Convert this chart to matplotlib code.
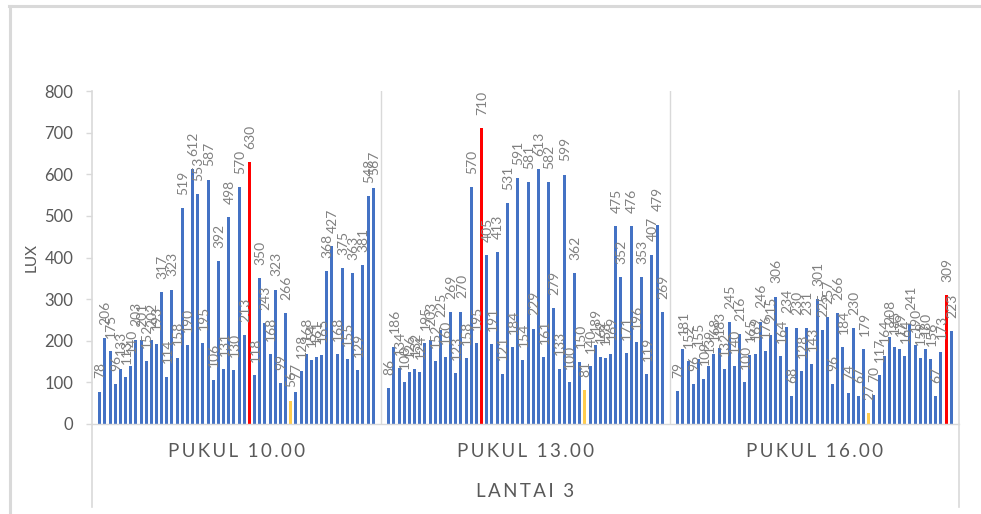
import numpy as np
import matplotlib.pyplot as plt
from matplotlib.lines import Line2D

plt.rcParams['font.family'] = ['Lato', 'DejaVu Sans']

# =========================================================
#                           data
# =========================================================
groups = ['PUKUL 10.00', 'PUKUL 13.00', 'PUKUL 16.00']
outer_label = 'LANTAI 3'
y_label = 'LUX'

lux_10 = [78, 206, 175, 96, 133, 113, 140, 203, 201, 152, 202, 193, 317, 114,
          323, 158, 519, 190, 612, 553, 195, 587, 106, 392, 131, 498, 130, 570,
          213, 630, 118, 350, 243, 168, 323, 99, 266, 56, 77, 128, 168, 154,
          161, 165, 368, 427, 168, 375, 155, 363, 129, 381, 548, 567]
lux_13 = [86, 186, 134, 100, 126, 132, 124, 195, 203, 152, 225, 160, 269, 123,
          270, 158, 570, 195, 710, 405, 191, 413, 121, 531, 184, 591, 154, 581,
          229, 613, 161, 582, 279, 133, 599, 100, 362, 150, 81, 140, 189, 162,
          158, 169, 475, 352, 171, 476, 196, 353, 119, 407, 479, 269]
lux_16 = [79, 181, 152, 96, 155, 109, 139, 168, 183, 132, 245, 140, 216, 100,
          165, 169, 246, 176, 215, 306, 164, 234, 68, 230, 128, 231, 143, 301,
          225, 257, 96, 266, 184, 74, 230, 67, 179, 27, 70, 117, 164, 208,
          185, 179, 164, 241, 190, 159, 180, 156, 67, 173, 309, 223]
series = [lux_10, lux_13, lux_16]

y_ticks = [0, 100, 200, 300, 400, 500, 600, 700, 800]

# =========================================================
#                           plot
# =========================================================
BLUE = '#4472C4'
RED = '#FF0000'
YELLOW = '#FFCC4D'
GRID = '#D9D9D9'
TXT = '#595959'

slots = 56   # 54 bars + one empty slot at each side of a group


def spaced(s):
    # letter spacing like the excel axis labels
    return '\u2009'.join(s)


fig = plt.figure(figsize=(9.81, 5.14), dpi=100)
ax = fig.add_axes([92 / 981, 90 / 514, 867 / 981, 333 / 514])

for g, vals in enumerate(series):
    vals = np.array(vals)
    x = g * slots + 1.5 + np.arange(len(vals))
    colors = [BLUE] * len(vals)
    colors[int(np.argmax(vals))] = RED
    colors[int(np.argmin(vals))] = YELLOW
    ax.bar(x, vals, width=0.58, color=colors, zorder=2)
    for xi, v in zip(x, vals):
        ax.annotate(str(v), (xi, v), xytext=(0.6, 9.5), textcoords='offset points',
                    rotation=90, ha='center', va='bottom', fontsize=10,
                    color='#808080', zorder=3)
    ax.text(g * slots + slots / 2, -0.084, spaced(groups[g]),
            transform=ax.get_xaxis_transform(), ha='center', va='center',
            fontsize=13.5, color=TXT)

ax.text(0.5, -0.204, spaced(outer_label), transform=ax.transAxes,
        ha='center', va='center', fontsize=13.5, color=TXT)

ax.set_xlim(0, slots * 3)
ax.set_ylim(0, 800)
ax.set_yticks(y_ticks)
ax.set_xticks([])
ax.tick_params(axis='y', length=4.5, width=1, color=GRID, labelsize=12,
               labelcolor=TXT, pad=9)

for sp in ['top', 'right', 'left']:
    ax.spines[sp].set_visible(False)
ax.spines['bottom'].set_color(GRID)
ax.spines['bottom'].set_linewidth(1)

# group dividers inside the plot
for xb in [slots, 2 * slots]:
    ax.axvline(xb, color=GRID, lw=1, zorder=1)
# outer boundary lines run down through the label rows
for xb in [0, 3 * slots]:
    ax.add_line(Line2D([xb, xb], [-0.25, 1], transform=ax.get_xaxis_transform(),
                       color=GRID, lw=1.2, clip_on=False))

fig.text(32 / 981, 1 - 258 / 514, y_label, rotation=90, ha='center', va='center',
         fontsize=11, color=TXT)

# chart area border
fig.add_artist(Line2D([9 / 981, 1], [1 - 6 / 514, 1 - 6 / 514], color=GRID, lw=2.2))
fig.add_artist(Line2D([10 / 981, 10 / 981], [0, 1 - 6 / 514], color=GRID, lw=2.2))

fig.savefig('out.png', dpi=100)
